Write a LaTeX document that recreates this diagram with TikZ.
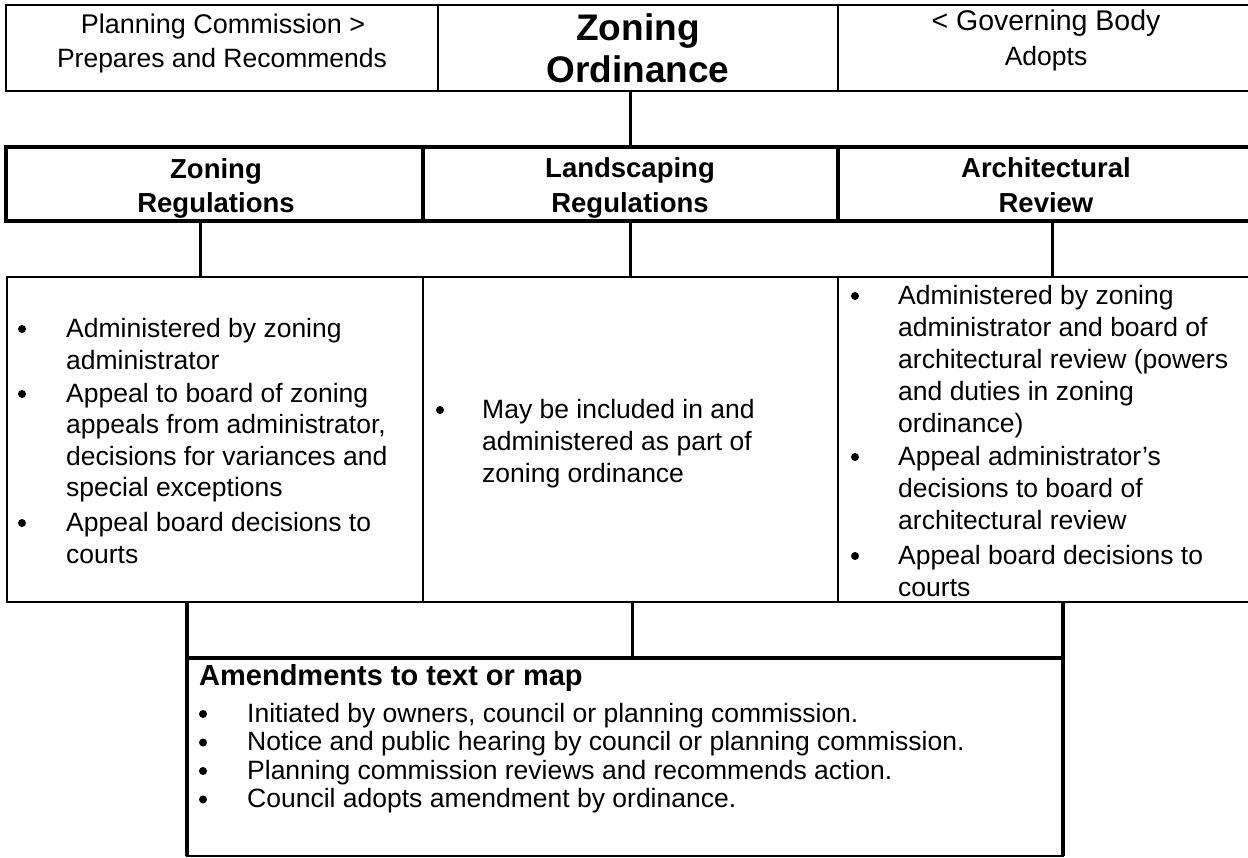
\documentclass[tikz,border=0pt]{standalone}
\usepackage{fontspec}
\setmainfont{Liberation Sans}
\newcommand\fbody{\fontsize{26.5}{31.6}\selectfont}
\newcommand\mkcell[6]{% name, x1, y1, x2, y2, style
  \node[cellbox, #6, minimum width={#4-#2}, minimum height={#5-#3}] (#1) at (#2,#3) {};}
\newcommand\tl[4]{\node[txt] (#1) at (#2,#3) {#4};}
\newcommand\bl[3]{\node[bul] (#1) at (#2,#3-8) {};}
\begin{document}
\begin{tikzpicture}[x=1pt,y=-1pt,
  thinline/.style={line width=1.7pt},
  thickline/.style={line width=4pt},
  conn/.style={line width=3pt},
  cellbox/.style={inner sep=0pt, outer sep=0pt, anchor=north west},
  txt/.style={inner sep=0pt, anchor=base west, font=\fbody},
  ctxt/.style={inner sep=0pt, anchor=base, font=\fbody},
  bul/.style={circle, fill=black, inner sep=0pt, minimum size=8pt},
  bighead/.style={inner sep=0pt, anchor=base, font=\fontsize{37}{42}\selectfont\bfseries},
  head/.style={inner sep=0pt, anchor=base, font=\fontsize{27.5}{33}\selectfont\bfseries}
]
\clip (0,0) rectangle (1248,857);
\fill[white] (0,0) rectangle (1248,857);

% row 1
\mkcell{pc}{6}{5}{438}{91}{draw,thinline}
\mkcell{zo}{438}{5}{838}{91}{draw,thinline}
\mkcell{gb}{838}{5}{1258}{91}{draw,thinline}
% row 2
\mkcell{zr}{6}{147}{423}{221}{draw,thickline}
\mkcell{lr}{423}{147}{838}{221}{draw,thickline}
\mkcell{ar}{838}{147}{1258}{221}{draw,thickline}
% row 3
\mkcell{zl}{7}{277}{423}{602}{draw,thinline}
\mkcell{ll}{423}{277}{838}{602}{draw,thinline}
\mkcell{al}{838}{277}{1258}{602}{draw,thinline}
% lower
\mkcell{gap}{187}{602}{1063}{658}{}
\mkcell{am}{187}{658}{1063}{856}{draw,thinline}
\draw[thickline] (gap.north west) -- (am.south west);
\draw[thickline] (gap.north east) -- (am.south east);
\draw[thickline] (am.north west) -- (am.north east);

% connectors
\draw[conn] ([xshift=-8pt]zo.south) -- ([xshift=-8pt]zo.south |- lr.north);
\draw[conn] ([xshift=-14.5pt]zr.south) -- ([xshift=-15pt]zl.north);
\draw[conn] (lr.south) -- (ll.north);
\draw[conn] ([xshift=4pt]ar.south) -- ([xshift=4pt]al.north);
\coordinate (m1) at ([xshift=1.5pt]ll.south);
\draw[conn] (m1) -- (m1 |- am.north);

% row 1 text
\node[ctxt, font=\fontsize{27}{33}\selectfont] (pc1) at (223,33) {Planning Commission >};
\node[ctxt] (pc2) at (222,67) {Prepares and Recommends};
\node[bighead] (zo1) at (638,40) {Zoning};
\node[bighead] (zo2) at (638,82) {Ordinance};
\node[ctxt, font=\fontsize{28.5}{33}\selectfont] (gb1) at (1046,30) {< Governing Body};
\node[ctxt] (gb2) at (1046,65) {Adopts};

% row 2 text
\node[head] (zr1) at (216,178) {Zoning};
\node[head] (zr2) at (216,212) {Regulations};
\node[head] (lr1) at (630,177) {Landscaping};
\node[head] (lr2) at (630,212) {Regulations};
\node[head] (ar1) at (1046,177) {Architectural};
\node[head] (ar2) at (1046,212) {Review};

% row 3 left
\bl{zb1}{22}{337}
\tl{zt1}{66}{337}{Administered by zoning}
\tl{zt2}{66}{369}{administrator}
\bl{zb2}{22}{402}
\tl{zt3}{66}{402}{Appeal to board of zoning}
\tl{zt4}{66}{433.5}{appeals from administrator,}
\tl{zt5}{66}{465}{decisions for variances and}
\tl{zt6}{66}{496.5}{special exceptions}
\bl{zb3}{22}{531}
\tl{zt7}{66}{531}{Appeal board decisions to}
\tl{zt8}{66}{563}{courts}

% row 3 middle
\bl{lb1}{440}{418}
\tl{lt1}{482}{418}{May be included in and}
\tl{lt2}{482}{450}{administered as part of}
\tl{lt3}{482}{482}{zoning ordinance}

% row 3 right
\bl{ab1}{855}{304}
\tl{at1}{898}{304}{Administered by zoning}
\tl{at2}{898}{336}{administrator and board of}
\tl{at3}{898}{368}{architectural review (powers}
\tl{at4}{898}{400}{and duties in zoning}
\tl{at5}{898}{432}{ordinance)}
\bl{ab2}{855}{465}
\tl{at6}{898}{465}{Appeal administrator’s}
\tl{at7}{898}{497}{decisions to board of}
\tl{at8}{898}{529}{architectural review}
\bl{ab3}{855}{564}
\tl{at9}{898}{564}{Appeal board decisions to}
\tl{at10}{898}{596}{courts}

% amendments
\node[inner sep=0pt, anchor=base west, font=\fontsize{29}{33}\selectfont\bfseries] (amh) at (199,685) {Amendments to text or map};
\bl{mb1}{203}{722}
\tl{mt1}{247}{722}{Initiated by owners, council or planning commission.}
\bl{mb2}{203}{750.5}
\tl{mt2}{247}{750.5}{Notice and public hearing by council or planning commission.}
\bl{mb3}{203}{779}
\tl{mt3}{247}{779}{Planning commission reviews and recommends action.}
\bl{mb4}{203}{807.5}
\tl{mt4}{247}{807.5}{Council adopts amendment by ordinance.}
\end{tikzpicture}
\end{document}
